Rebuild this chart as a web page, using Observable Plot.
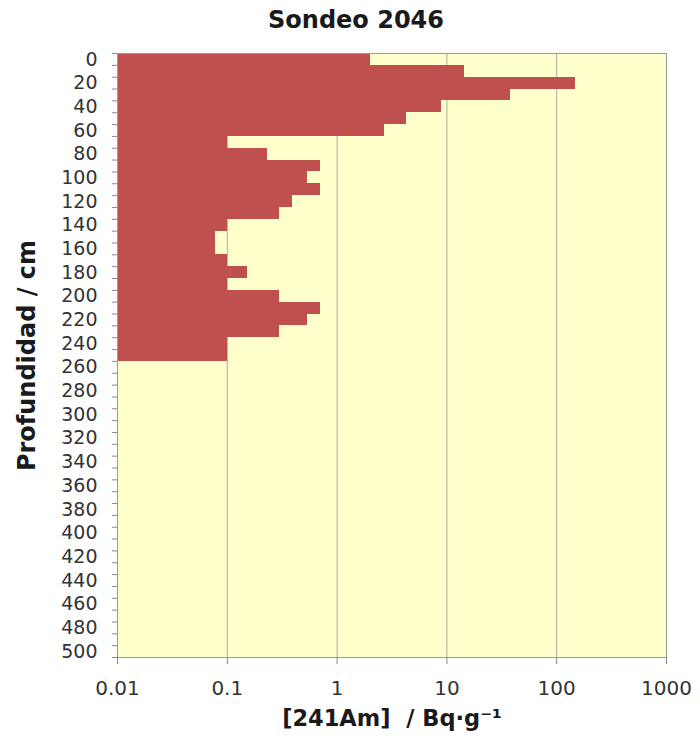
<!DOCTYPE html>
<html>
<head>
<meta charset="utf-8">
<script src="https://cdn.jsdelivr.net/npm/d3@7"></script>
<script src="https://cdn.jsdelivr.net/npm/@observablehq/plot@0.6"></script>
<style>
  body { margin: 0; background: #fff; font-family: "DejaVu Sans", Verdana, sans-serif; }
  #title {
    width: 700px; height: 40px; line-height: 40px; box-sizing: border-box;
    padding-left: 12px; text-align: center;
    font-size: 24px; font-weight: bold; color: #1a1a1a;
  }
</style>
</head>
<body>
<div id="title">Sondeo 2046</div>
<div id="chart"></div>
<script>
// Depth of each sample (cm) and its 241Am activity (Bq/g)
const depth = [0, 10, 20, 30, 40, 50, 60, 70, 80, 90, 100, 110, 120, 130,
               140, 150, 160, 170, 180, 190, 200, 210, 220, 230, 240, 250];
const activity = [2.0, 14.5, 148, 38, 8.9, 4.3, 2.7, 0.1, 0.23, 0.7, 0.54, 0.7, 0.39, 0.3,
                  0.1, 0.078, 0.078, 0.1, 0.153, 0.1, 0.3, 0.7, 0.54, 0.3, 0.1, 0.1];

// Axis labels
const depthTicks = [0, 20, 40, 60, 80, 100, 120, 140, 160, 180, 200, 220, 240, 260, 280,
                    300, 320, 340, 360, 380, 400, 420, 440, 460, 480, 500];
const activityTicks = [0.01, 0.1, 1, 10, 100, 1000];

// Each depth category is a 10 cm band centred on its label
const bandHalf = 5;
const boundaries = d3.range(-bandHalf, 500 + bandHalf + 1, 10);

const rows = depth.map((d, i) => ({depth: d, value: activity[i]}));

const chart = Plot.plot({
  width: 700,
  height: 700,
  marginTop: 13,
  marginBottom: 83,
  marginLeft: 117,
  marginRight: 34,
  style: {fontFamily: "'DejaVu Sans', Verdana, sans-serif", color: "#333", background: "#fff"},
  x: {type: "log", domain: [0.01, 1000]},
  y: {domain: [-bandHalf, 500 + bandHalf], reverse: true},
  marks: [
    Plot.frame({fill: "#FFFFCC", stroke: null}),
    Plot.gridX(activityTicks.slice(1, -1), {stroke: "#ababa0", strokeOpacity: 1}),
    Plot.rectX(rows, {
      x1: 0.01, x2: "value",
      y1: d => d.depth - bandHalf, y2: d => d.depth + bandHalf,
      fill: "#C0504D", shapeRendering: "crispEdges"
    }),
    Plot.frame({stroke: "#9a9a9a"}),
    Plot.axisX(activityTicks, {
      tickSize: 7, tickPadding: 16, fontSize: 20, stroke: "#888",
      tickFormat: d => String(d), label: null
    }),
    Plot.axisY(boundaries, {tickSize: 5, stroke: "#888", tickFormat: () => "", label: null}),
    Plot.axisY(depthTicks, {tickSize: 0, tickPadding: 20, fontSize: 19, label: null}),
    Plot.text(["Profundidad / cm"], {
      frameAnchor: "left", dx: -90, rotate: -90,
      textAnchor: "middle", lineAnchor: "middle",
      fontSize: 24, fontWeight: "bold", fill: "#1a1a1a"
    }),
    Plot.text(["[241Am] \u00a0/ Bq\u00b7g\u207b\u00b9"], {
      frameAnchor: "bottom", dy: 61,
      textAnchor: "middle", lineAnchor: "middle",
      fontSize: 22.5, fontWeight: "bold", fill: "#1a1a1a"
    })
  ]
});

document.getElementById("chart").appendChild(chart);
</script>
</body>
</html>
